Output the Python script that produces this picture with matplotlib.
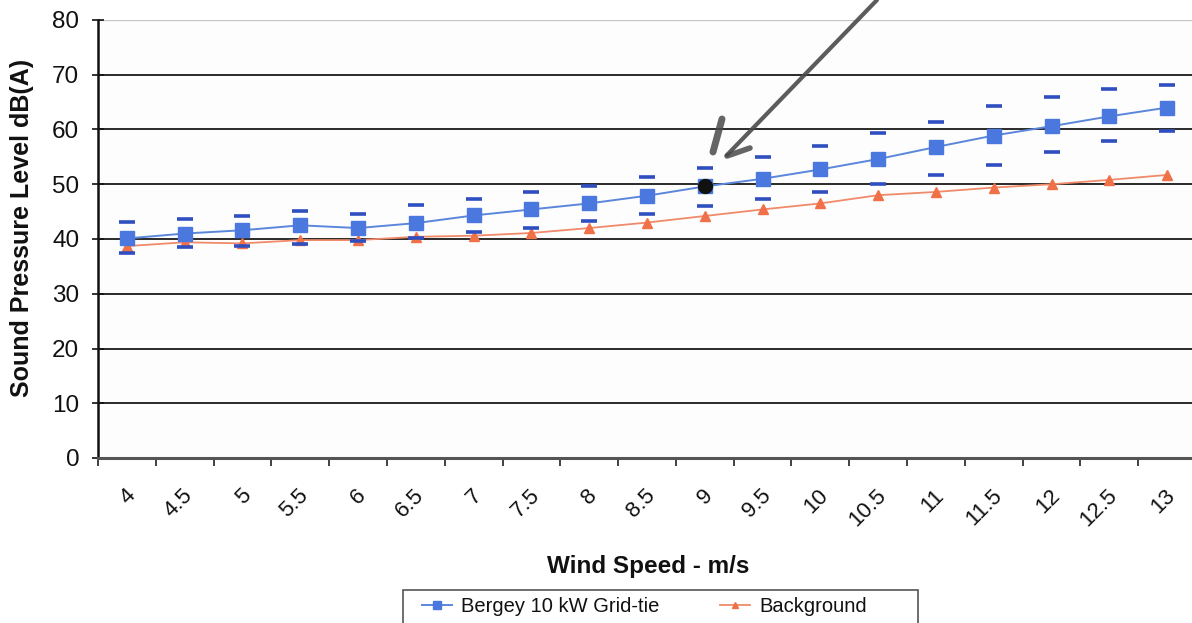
import matplotlib
matplotlib.use("Agg")
import matplotlib.pyplot as plt
from matplotlib.lines import Line2D
from matplotlib.patches import Rectangle
from matplotlib.transforms import ScaledTranslation

plt.rcParams['font.family'] = ['Liberation Sans', 'DejaVu Sans']

# Wind speed categories (m/s)
wind_speed = ['4', '4.5', '5', '5.5', '6', '6.5', '7', '7.5', '8', '8.5', '9',
              '9.5', '10', '10.5', '11', '11.5', '12', '12.5', '13']

# Turbine sound pressure level, dB(A), with upper/lower spread
turbine = [40.1, 41.0, 41.6, 42.5, 42.0, 42.9, 44.3, 45.4, 46.5, 47.9, 49.6,
           51.0, 52.7, 54.6, 56.8, 58.9, 60.6, 62.4, 64.0]
turbine_high = [43.1, 43.6, 44.2, 45.1, 44.6, 46.2, 47.3, 48.5, 49.6, 51.4, 53.0,
                54.9, 57.0, 59.3, 61.4, 64.3, 65.9, 67.4, 68.2]
turbine_low = [37.4, 38.5, 38.7, 39.0, 39.7, 40.1, 41.3, 42.0, 43.3, 44.6, 46.0,
               47.3, 48.5, 50.1, 51.6, 53.6, 55.9, 57.9, 59.8]

# Background sound pressure level, dB(A)
background = [38.7, 39.4, 39.2, 39.8, 39.8, 40.4, 40.6, 41.1, 42.0, 43.0, 44.2,
              45.4, 46.5, 48.0, 48.6, 49.4, 50.0, 50.8, 51.7]

y_ticks = [0, 10, 20, 30, 40, 50, 60, 70, 80]
highlight = '9'

W, H = 1192, 623
fig = plt.figure(figsize=(W / 100, H / 100), dpi=100)
fig.patch.set_facecolor('white')


def fx(px):
    return px / W


def fy(py):
    return 1 - py / H


ax = fig.add_axes([fx(98), fy(458), fx(1196) - fx(98), fy(20) - fy(458)])
ax.set_facecolor('#fdfdfd')

x = list(range(len(wind_speed)))

blue_line = '#5a86dc'
blue_mark = '#4a78de'
dash_col = '#2f4fc0'
orange_line = '#f08a6a'
orange_mark = '#f07048'

# horizontal gridlines
for v in y_ticks[1:-1]:
    ax.axhline(v, color='#2a2a2a', lw=1.4, zorder=1)
ax.axhline(y_ticks[-1], color='#c4c4c4', lw=1.6, zorder=1)

ax.plot(x, background, color=orange_line, lw=1.3, marker='^', markersize=7.5,
        markerfacecolor=orange_mark, markeredgecolor=orange_mark, zorder=3)
ax.plot(x, turbine, color=blue_line, lw=1.4, marker='s', markersize=9.5,
        markerfacecolor=blue_mark, markeredgecolor=blue_mark, zorder=4)
ax.plot(x, turbine_high, linestyle='none', marker='_', markersize=12,
        markeredgewidth=2.6, color=dash_col, zorder=5)
ax.plot(x, turbine_low, linestyle='none', marker='_', markersize=12,
        markeredgewidth=2.6, color=dash_col, zorder=5)

# inked dot on the 9 m/s point
hi = wind_speed.index(highlight)
ax.plot([hi], [turbine[hi]], marker='o', markersize=10, color='#111111',
        linestyle='none', zorder=6)

ax.set_xlim(-0.5, len(wind_speed) - 0.5)
ax.set_ylim(0, 80)

ax.set_yticks(y_ticks)
ax.set_yticklabels([str(v) for v in y_ticks], fontsize=17.5, color='#111111')
ax.tick_params(axis='y', direction='inout', length=9, width=1.2, pad=9,
               colors='#111111')

ax.set_xticks(x)
ax.set_xticklabels(wind_speed, fontsize=16, rotation=45, ha='right',
                   va='center', rotation_mode='anchor', color='#111111')
ax.tick_params(axis='x', length=0, pad=25)
off = ScaledTranslation(5 / 100, 0, fig.dpi_scale_trans)
for lab in ax.get_xticklabels():
    lab.set_transform(lab.get_transform() + off)
ax.set_xticks([i - 0.5 for i in range(len(wind_speed) + 1)], minor=True)
ax.tick_params(axis='x', which='minor', direction='out', length=6, width=1.3,
               color='#333333')

for s in ['top', 'right']:
    ax.spines[s].set_visible(False)
ax.spines['left'].set_color('#111111')
ax.spines['left'].set_linewidth(1.8)
ax.spines['bottom'].set_color('#555555')
ax.spines['bottom'].set_linewidth(2.2)

ax.set_ylabel('Sound Pressure Level dB(A)', fontsize=18, fontweight='bold',
              color='#111111')
ax.yaxis.set_label_coords((34 - 98) / 1098, (458 - 228) / 438)
ax.set_xlabel('Wind Speed - m/s', fontsize=17.5, fontweight='bold',
              color='#111111')
ax.xaxis.set_label_coords(0.501, -(555 - 458) / 438)

# legend, with its frame running off the bottom edge
fig.add_artist(Rectangle((fx(403), fy(640)), fx(918) - fx(403), fy(590) - fy(640),
                         transform=fig.transFigure, facecolor='white',
                         edgecolor='#555555', lw=1.2, zorder=0))
handles = [Line2D([], [], color=blue_line, lw=1.4, marker='s', markersize=6,
                  markerfacecolor=blue_mark, markeredgecolor=blue_mark),
           Line2D([], [], color=orange_line, lw=1.3, marker='^', markersize=5,
                  markerfacecolor=orange_mark, markeredgecolor=orange_mark)]
leg = fig.legend(handles, ['Bergey 10 kW Grid-tie', 'Background'],
                 loc='center left', ncol=2,
                 bbox_to_anchor=(fx(422), fy(607)),
                 fontsize=14.5, frameon=False, handlelength=1.5,
                 handletextpad=0.45, columnspacing=3.0, borderpad=0,
                 borderaxespad=0)
for t in leg.get_texts():
    t.set_color('#111111')

# hand-drawn pen marks: a long stroke ending in a small hook, plus a tick
pen = '#4a4a4a'
fig.add_artist(Line2D([fx(877), fx(727)], [fy(0), fy(155)],
                      color=pen, lw=3.0, solid_capstyle='round', alpha=0.9))
fig.add_artist(Line2D([fx(727), fx(750)], [fy(156), fy(148)],
                      color=pen, lw=4.0, solid_capstyle='round', alpha=0.85))
fig.add_artist(Line2D([fx(722), fx(713)], [fy(119), fy(152)],
                      color=pen, lw=5.0, solid_capstyle='round', alpha=0.85))

fig.savefig('out.png', dpi=100)
